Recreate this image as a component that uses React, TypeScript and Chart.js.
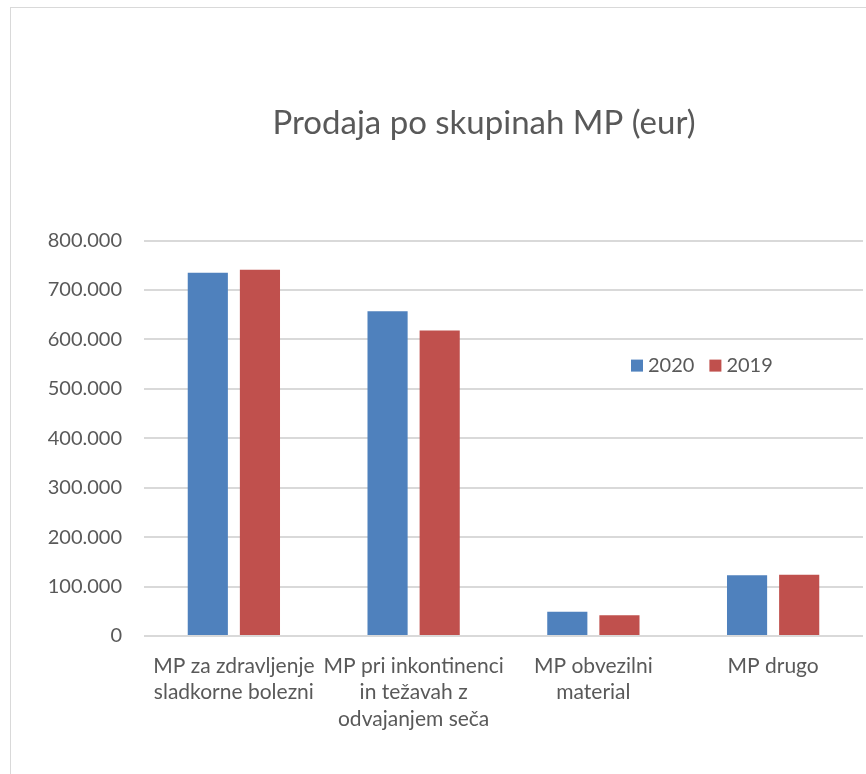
import React, { useEffect, useRef } from "react";
import { Chart, registerables } from "chart.js";

Chart.register(...registerables);

const categories: string[][] = [
  ["MP za zdravljenje", "sladkorne bolezni"],
  ["MP pri inkontinenci", "in težavah z", "odvajanjem seča"],
  ["MP obvezilni", "material"],
  ["MP drugo"],
];
const series2020: number[] = [735000, 657000, 49000, 123000];
const series2019: number[] = [741000, 618000, 42000, 124000];
const seriesNames: string[] = ["2020", "2019"];
const seriesColors: string[] = ["#4F81BD", "#C0504D"];
const yTicks: number[] = [0, 100000, 200000, 300000, 400000, 500000, 600000, 700000, 800000];
const titleText = "Prodaja po skupinah MP (eur)";

const FONT = "Lato";
const TEXT = "#595959";

const fmt = (v: number) => String(v).replace(/\B(?=(\d{3})+(?!\d))/g, ".");

const legendPlugin = {
  id: "insideLegend",
  afterLayout(chart: any) {
    // let the y labels use the full left margin (avoid clipping)
    if (chart.scales.y) chart.scales.y.left = 0;
  },
  afterDraw(chart: any) {
    const ctx = chart.ctx;
    const area = chart.chartArea;
    let x = area.left + 487;
    const y = area.top + 125;
    ctx.save();
    ctx.font = `20px ${FONT}`;
    ctx.textBaseline = "middle";
    ctx.textAlign = "left";
    chart.data.datasets.forEach((ds: any) => {
      ctx.fillStyle = ds.backgroundColor;
      ctx.fillRect(x, y - 6, 12, 12);
      x += 17;
      ctx.fillStyle = TEXT;
      ctx.fillText(ds.label, x, y);
      x += ctx.measureText(ds.label).width + 15;
    });
    ctx.restore();
  },
};

export default function App() {
  const ref = useRef<HTMLCanvasElement | null>(null);
  useEffect(() => {
    if (!ref.current) return;
    const chart = new Chart(ref.current, {
      type: "bar",
      data: {
        labels: categories,
        datasets: [
          { label: seriesNames[0], data: series2020, backgroundColor: seriesColors[0] },
          { label: seriesNames[1], data: series2019, backgroundColor: seriesColors[1] },
        ],
      },
      options: {
        animation: false,
        responsive: false,
        maintainAspectRatio: false,
        layout: { padding: { left: 94, right: 92, top: 0, bottom: 0 } },
        datasets: { bar: { categoryPercentage: 0.58, barPercentage: 0.77 } } as any,
        plugins: {
          legend: { display: false },
          tooltip: { enabled: false },
          title: {
            display: true,
            text: titleText,
            color: TEXT,
            font: { family: FONT, size: 33, weight: "normal" },
            padding: { top: 96, bottom: 97 },
          },
        },
        scales: {
          x: {
            grid: { display: false },
            border: { display: false },
            ticks: {
              color: TEXT,
              font: { family: FONT, size: 21, lineHeight: 1.26 },
              maxRotation: 0,
              autoSkip: false,
              padding: 9,
            },
            afterFit: (s: any) => {
              s.height = 152;
            },
          },
          y: {
            min: 0,
            max: 800000,
            afterBuildTicks: (s: any) => {
              s.ticks = yTicks.map((v) => ({ value: v }));
            },
            grid: { color: "#d9d9d9", lineWidth: 2, drawTicks: false },
            border: { display: false },
            ticks: {
              color: TEXT,
              font: { family: FONT, size: 20 },
              padding: 22,
              callback: (v: any) => fmt(Number(v)),
            },
            afterFit: (s: any) => {
              s.width = 39;
            },
          },
        },
      },
      plugins: [legendPlugin],
    });
    return () => chart.destroy();
  }, []);

  return (
    <div style={{ position: "fixed", inset: 0, overflow: "hidden", background: "#fff" }}>
      <div
        style={{
          position: "absolute",
          left: 10,
          top: 7,
          width: 946,
          height: 800,
          border: "1px solid #d9d9d9",
          boxSizing: "border-box",
        }}
      >
        <canvas ref={ref} width={944} height={780} style={{ display: "block" }} />
      </div>
    </div>
  );
}
